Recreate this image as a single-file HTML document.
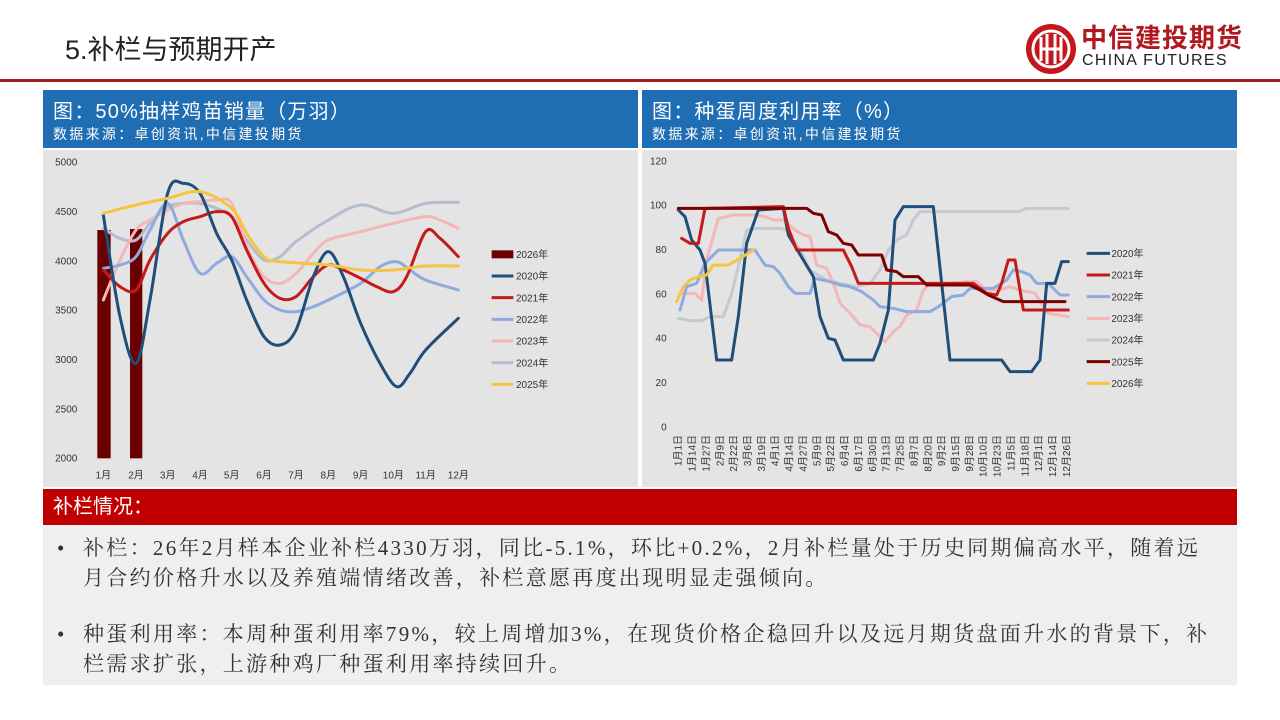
<!DOCTYPE html>
<html><head><meta charset="utf-8"><style>
body{margin:0;width:1280px;height:720px;background:#fff;overflow:hidden;position:relative;font-family:"Liberation Sans","Noto Sans CJK SC",sans-serif}
.a{position:absolute}
.hd{background:#1f6db3;color:#fff}
.t1{font-size:20px;left:10px;top:5px;position:absolute;letter-spacing:1.2px;font-family:"Liberation Sans","Noto Sans CJK SC",sans-serif}
.t2{font-size:14px;left:10px;top:34px;position:absolute;letter-spacing:2.3px;font-family:"Liberation Sans","WenQuanYi Zen Hei",sans-serif}
.tx{font-size:21px;color:#333;line-height:30px;letter-spacing:2.3px;white-space:nowrap;font-family:"Liberation Serif","Noto Serif CJK SC",serif}
</style></head><body>
<div class="a" style="left:65px;top:28px;font-size:27px;color:#222;font-family:'Liberation Sans','Noto Sans CJK SC',sans-serif">5.补栏与预期开产</div>
<div class="a" style="left:0;top:79px;width:1280px;height:3px;background:#a11d22"></div>
<svg class="a" style="left:1024px;top:22px" width="54" height="54"><circle cx="27" cy="27" r="25" fill="#c4161c"/><circle cx="27" cy="27" r="18" fill="none" stroke="#fff" stroke-width="3"/><path d="M17 15v24M23 12v30M31 12v30M37 15v24M17 27h20" stroke="#fff" stroke-width="3" fill="none"/></svg>
<div class="a" style="left:1081px;top:22px;font-size:26px;line-height:30px;font-weight:bold;color:#b01820;font-family:'Noto Sans CJK SC',sans-serif;letter-spacing:1px">中信建投期货</div>
<div class="a" style="left:1082px;top:52px;font-size:16px;line-height:18px;color:#222;letter-spacing:1.3px">CHINA FUTURES</div>

<div class="a hd" style="left:43px;top:90px;width:595px;height:58px"><div class="t1">图：50%抽样鸡苗销量（万羽）</div><div class="t2">数据来源：卓创资讯,中信建投期货</div></div>
<div class="a hd" style="left:642px;top:90px;width:595px;height:58px"><div class="t1">图：种蛋周度利用率（%）</div><div class="t2">数据来源：卓创资讯,中信建投期货</div></div>
<div class="a" style="left:43px;top:150px;width:595px;height:337px;background:#e4e4e4"></div>
<div class="a" style="left:642px;top:150px;width:595px;height:337px;background:#e4e4e4"></div>
<svg class="a" style="left:0;top:0" width="1280" height="720" id="s">
<g id="L" transform="translate(40,150) scale(0.33333)" font-family="Liberation Sans" font-size="30" fill="#333"></g>
<g id="R" transform="translate(640,150) scale(0.33333)" font-family="Liberation Sans, Noto Sans CJK SC" font-size="30" fill="#333"></g>
</svg>
<div class="a" style="left:43px;top:489px;width:1194px;height:36px;background:#c00000;color:#fff;font-size:20px;line-height:36px;text-indent:10px">补栏情况：</div>
<div class="a" style="left:43px;top:525px;width:1194px;height:160px;background:#efefef"></div>
<div class="a tx" style="left:57px;top:533px">•</div>
<div class="a tx" style="left:83px;top:533px">补栏：26年2月样本企业补栏4330万羽，同比-5.1%，环比+0.2%，2月补栏量处于历史同期偏高水平，随着远<br>月合约价格升水以及养殖端情绪改善，补栏意愿再度出现明显走强倾向。</div>
<div class="a tx" style="left:57px;top:619px">•</div>
<div class="a tx" style="left:83px;top:619px">种蛋利用率：本周种蛋利用率79%，较上周增加3%，在现货价格企稳回升以及远月期货盘面升水的背景下，补<br>栏需求扩张，上游种鸡厂种蛋利用率持续回升。</div>
<script>
var NS="http://www.w3.org/2000/svg";
function el(g,t,a,txt){var e=document.createElementNS(NS,t);for(var k in a)e.setAttribute(k,a[k]);if(txt)e.textContent=txt;g.appendChild(e);return e}
function smooth(p){var d="M"+p[0][0]+" "+p[0][1];for(var i=0;i<p.length-1;i++){var p0=p[i-1]||p[i],p1=p[i],p2=p[i+1],p3=p[i+2]||p2;d+=" C"+(p1[0]+(p2[0]-p0[0])/6)+" "+(p1[1]+(p2[1]-p0[1])/6)+" "+(p2[0]-(p3[0]-p1[0])/6)+" "+(p2[1]-(p3[1]-p1[1])/6)+" "+p2[0]+" "+p2[1]}return d}
function line(p){return "M"+p.map(function(a){return a[0]+" "+a[1]}).join(" L")}
var L=document.getElementById("L"),R=document.getElementById("R");
["5000","4500","4000","3500","3000","2500","2000"].forEach(function(t,i){el(L,"text",{x:112,y:37+i*148+10,"text-anchor":"end"},t)});
var mx=[190,288,383,480,575,672,768,865,962,1060,1157,1255];
mx.forEach(function(x,i){el(L,"text",{x:x,y:985,"text-anchor":"middle","font-family":"Liberation Sans, Noto Sans CJK SC"},(i+1)+"月")});
el(L,"rect",{x:172,y:240,width:40,height:685,fill:"#6b0000"});
el(L,"rect",{x:270,y:237,width:37,height:688,fill:"#6b0000"});
var LS=[
["#b4bccf",[[190,235],[240,265],[288,270],[330,220],[383,170],[430,160],[480,160],[530,175],[575,200],[620,270],[672,330],[720,320],[768,275],[865,210],[962,165],[1060,190],[1157,160],[1255,157]]],
["#f4b6b6",[[190,450],[240,330],[288,240],[330,210],[383,180],[430,160],[480,155],[530,150],[575,160],[620,290],[672,380],[720,400],[768,370],[820,310],[865,270],[962,245],[1060,220],[1157,200],[1200,210],[1255,235]]],
["#8faadc",[[190,355],[240,345],[288,320],[330,240],[383,160],[430,270],[480,370],[530,340],[575,320],[620,380],[672,450],[720,480],[768,485],[820,470],[865,450],[962,400],[1020,350],[1070,335],[1110,360],[1157,390],[1255,420]]],
["#c41a1a",[[190,360],[240,410],[288,420],[330,330],[383,250],[430,215],[480,200],[530,185],[575,200],[620,300],[672,400],[720,445],[768,440],[820,380],[865,345],[910,360],[962,385],[1010,410],[1060,425],[1100,380],[1157,245],[1200,265],[1255,320]]],
["#1f4e79",[[190,195],[240,500],[288,640],[330,450],[383,130],[430,100],[480,130],[530,250],[575,330],[620,450],[672,560],[720,585],[768,540],[820,380],[865,305],[910,380],[962,520],[1020,640],[1070,710],[1110,670],[1157,600],[1255,505]]],
["#f5c542",[[190,190],[288,165],[383,145],[480,125],[575,175],[620,250],[672,320],[720,335],[865,345],[962,360],[1060,360],[1157,348],[1255,348]]]];
LS.forEach(function(s){el(L,"path",{d:smooth(s[1]),fill:"none",stroke:s[0],"stroke-width":9,"stroke-linecap":"round"})});
var lg=[["2026年","#6b0000"],["2020年","#1f4e79"],["2021年","#c41a1a"],["2022年","#8faadc"],["2023年","#f4b6b6"],["2024年","#b4bccf"],["2025年","#f5c542"]];
lg.forEach(function(l,i){var y=313+i*65;if(i==0)el(L,"rect",{x:1355,y:y-12,width:65,height:24,fill:l[1]});else el(L,"line",{x1:1355,x2:1420,y1:y,y2:y,stroke:l[1],"stroke-width":9});el(L,"text",{x:1428,y:y+11,"font-family":"Liberation Sans, Noto Sans CJK SC"},l[0])});
["120","100","80","60","40","20","0"].forEach(function(t,i){el(R,"text",{x:80,y:33+i*133+10,"text-anchor":"end"},t)});
var dl="1月1日,1月14日,1月27日,2月9日,2月22日,3月6日,3月19日,4月1日,4月14日,4月27日,5月9日,5月22日,6月4日,6月17日,6月30日,7月13日,7月25日,8月7日,8月20日,9月2日,9月15日,9月28日,10月10日,10月23日,11月5日,11月18日,12月1日,12月14日,12月26日".split(",");
dl.forEach(function(t,i){var x=115+i*41.6+10;el(R,"text",{x:0,y:0,"text-anchor":"end",transform:"translate("+x+",855) rotate(-90)"},t)});
var RS=[
["#c4c9d4",[[115,505],[150,512],[185,512],[210,500],[250,500],[275,430],[300,330],[320,240],[350,235],[420,235],[440,240],[480,300],[510,360],[525,370],[560,390],[600,400],[650,410],[690,400],[720,360],[745,300],[770,270],[800,255],[820,210],[840,185],[1135,185],[1160,175],[1285,175]]],
["#f4b6b6",[[120,430],[165,430],[185,450],[200,330],[235,205],[260,200],[280,195],[345,195],[375,200],[400,210],[430,210],[465,240],[490,255],[510,260],[530,345],[560,355],[580,400],[600,460],[630,490],[660,525],[690,530],[720,560],[735,575],[760,545],[780,530],[800,495],[830,480],[850,420],[870,400],[935,400],[985,395],[1010,395],[1040,420],[1080,420],[1110,410],[1140,420],[1185,430],[1225,490],[1285,500]]],
["#8faadc",[[120,480],[140,410],[170,400],[195,340],[235,300],[345,300],[375,345],[400,350],[420,370],[445,410],[465,430],[510,430],[525,385],[570,395],[600,405],[630,410],[665,425],[700,450],[720,470],[760,475],[800,485],[870,485],[895,470],[935,440],[970,435],[990,415],[1060,415],[1100,390],[1120,360],[1145,365],[1170,375],[1190,400],[1225,400],[1260,435],[1285,435]]],
["#1f4e79",[[115,180],[135,200],[155,270],[180,300],[195,340],[230,630],[275,630],[295,500],[320,280],[355,180],[430,175],[445,255],[490,330],[520,380],[540,500],[565,565],[585,570],[610,630],[700,630],[720,580],[745,480],[765,210],[790,170],[880,170],[930,630],[1085,630],[1110,665],[1175,665],[1200,630],[1220,400],[1245,400],[1265,335],[1285,335]]],
["#c41a1a",[[125,265],[150,280],[175,280],[195,175],[430,170],[445,235],[470,300],[610,300],[635,350],[655,400],[1000,400],[1040,430],[1070,435],[1085,400],[1105,330],[1125,330],[1150,480],[1285,480]]],
["#7b0000",[[115,175],[500,175],[520,190],[545,195],[565,245],[590,255],[610,280],[635,285],[655,315],[725,315],[740,360],[770,365],[790,380],[835,380],[860,405],[990,405],[1020,420],[1045,435],[1090,455],[1275,455]]],
["#f5c542",[[110,455],[130,410],[150,390],[175,380],[200,375],[220,345],[265,345],[300,325],[340,300]]]];
RS.forEach(function(s){el(R,"path",{d:line(s[1]),fill:"none",stroke:s[0],"stroke-width":9,"stroke-linejoin":"round","stroke-linecap":"round"})});
var rl=[["2020年","#1f4e79"],["2021年","#c41a1a"],["2022年","#8faadc"],["2023年","#f4b6b6"],["2024年","#c4c9d4"],["2025年","#7b0000"],["2026年","#f5c542"]];
rl.forEach(function(l,i){var y=310+i*65;el(R,"line",{x1:1340,x2:1410,y1:y,y2:y,stroke:l[1],"stroke-width":9});el(R,"text",{x:1414,y:y+11},l[0])});
</script>
</body></html>
